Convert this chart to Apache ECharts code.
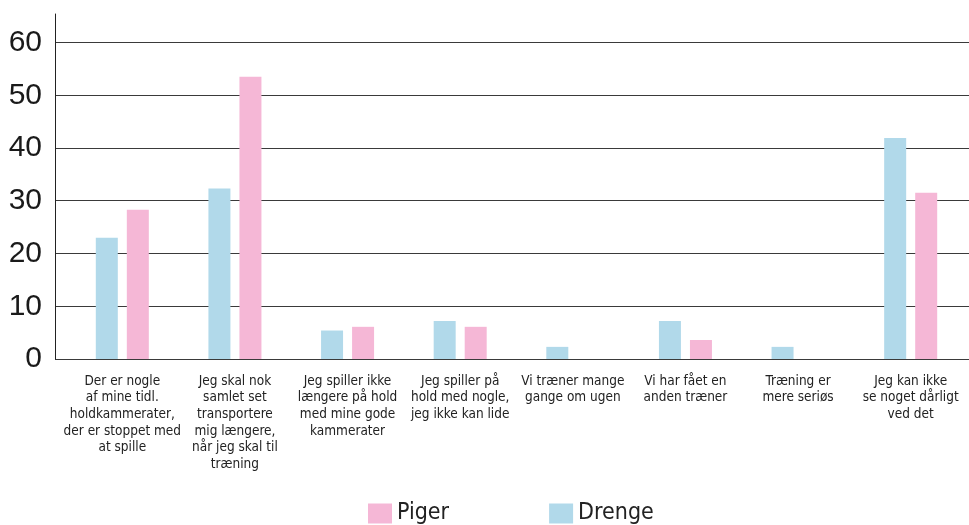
<!DOCTYPE html>
<html>
<head>
<meta charset="utf-8">
<script src="https://cdn.jsdelivr.net/npm/echarts@6/dist/echarts.min.js"></script>
<style>
  html, body { margin: 0; padding: 0; background: #fff; }
  #chart { width: 969px; height: 525px; }
</style>
</head>
<body>
<div id="chart"></div>
<script>
const categories = [
  'Der er nogle\naf mine tidl.\nholdkammerater,\nder er stoppet med\nat spille',
  'Jeg skal nok\nsamlet set\ntransportere\nmig længere,\nnår jeg skal til\ntræning',
  'Jeg spiller ikke\nlængere på hold\nmed mine gode\nkammerater',
  'Jeg spiller på\nhold med nogle,\njeg ikke kan lide',
  'Vi træner mange\ngange om ugen',
  'Vi har fået en\nanden træner',
  'Træning er\nmere seriøs',
  'Jeg kan ikke\nse noget dårligt\nved det'
]
const drenge = [23.0, 32.3, 5.4, 7.2, 2.3, 7.2, 2.3, 41.9]
const piger = [28.3, 53.5, 6.1, 6.1, null, 3.6, null, 31.5]

const BLUE = '#b1d9ea'
const PINK = '#f5b7d6'
const narrow = '"Liberation Sans Narrow", "DejaVu Sans Condensed", sans-serif'

const chart = echarts.init(document.getElementById('chart'))

// grid 0 draws the frame (y axis, gridlines), grid 1 holds the bars
const option = {
  animation: false,
  legend: {
    data: ['Piger', 'Drenge'],
    left: 368,
    top: 502,
    itemWidth: 24,
    itemHeight: 20,
    itemGap: 100,
    icon: 'rect',
    padding: 0,
    textStyle: { fontFamily: narrow, fontSize: 23, color: '#222' }
  },
  grid: [
    { left: 55, right: 0, top: 14, bottom: 166 },
    { left: 66, right: 2, top: 14, bottom: 166 }
  ],
  xAxis: [
    { type: 'category', gridIndex: 0, data: categories, show: false },
    {
      type: 'category',
      gridIndex: 1,
      data: categories,
      axisLine: { show: false },
      axisTick: { show: false },
      axisLabel: {
        interval: 0,
        margin: 14,
        fontFamily: narrow,
        fontSize: 13.5,
        lineHeight: 16.6,
        color: '#222',
        align: 'center'
      }
    }
  ],
  yAxis: [
    {
      type: 'value',
      gridIndex: 0,
      min: 0,
      max: 65.4,
      interval: 10,
      axisLine: { show: true, lineStyle: { color: '#222', width: 1 } },
      axisTick: { show: false },
      axisLabel: {
        showMaxLabel: false,
        margin: 13,
        fontFamily: 'Liberation Sans, Arial, sans-serif',
        fontSize: 30,
        color: '#1a1a1a'
      },
      splitLine: {
        show: true,
        showMinLine: true,
        showMaxLine: false,
        lineStyle: { color: '#3a3a3a', width: 1 }
      }
    },
    { type: 'value', gridIndex: 1, min: 0, max: 65.4, show: false }
  ],
  series: [
    {
      name: 'Drenge',
      type: 'bar',
      xAxisIndex: 1,
      yAxisIndex: 1,
      data: drenge,
      barWidth: 22,
      barGap: '41%',
      itemStyle: { color: BLUE }
    },
    {
      name: 'Piger',
      type: 'bar',
      xAxisIndex: 1,
      yAxisIndex: 1,
      data: piger,
      barWidth: 22,
      barGap: '41%',
      itemStyle: { color: PINK }
    }
  ]
}

chart.setOption(option)
</script>
</body>
</html>
